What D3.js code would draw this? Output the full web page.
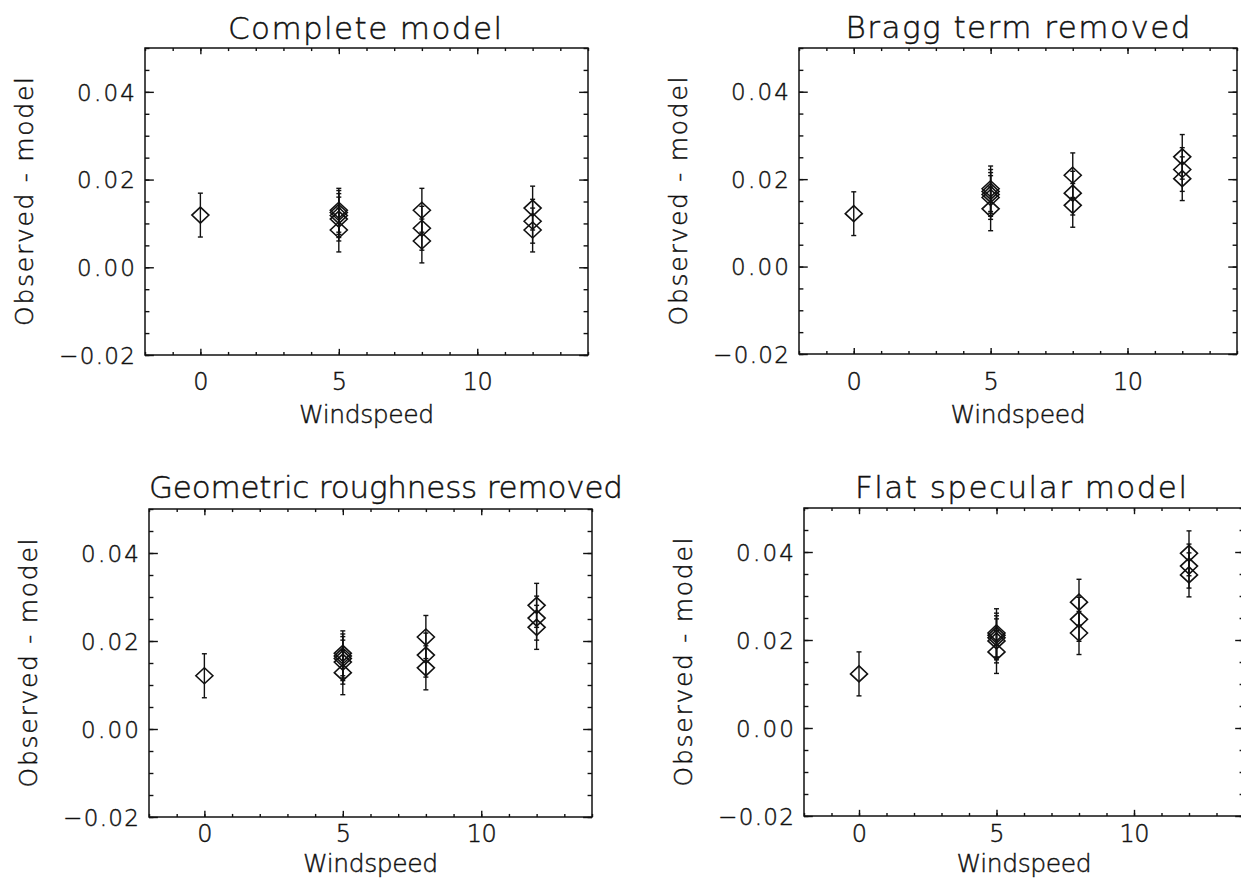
<!DOCTYPE html>
<html>
<head>
<meta charset="utf-8">
<script src="https://cdn.jsdelivr.net/npm/d3@7"></script>
<style>
  body { margin: 0; background: #fff; }
  svg text { font-family: "DejaVu Sans", sans-serif; font-weight: 200; fill: #111; stroke: #111; stroke-width: 0.45px; }
</style>
</head>
<body>
<script>
// data
var windspeed = [0, 5, 5, 5, 5, 5, 8, 8, 8, 12, 12, 12];

var completeModel    = [0.0119, 0.0130, 0.0125, 0.0118, 0.0110, 0.0085, 0.0130, 0.0089, 0.0060, 0.0135, 0.0105, 0.0085];
var braggRemoved     = [0.0121, 0.0178, 0.0172, 0.0165, 0.0158, 0.0132, 0.0209, 0.0168, 0.0140, 0.0251, 0.0222, 0.0201];
var roughnessRemoved = [0.0121, 0.0172, 0.0166, 0.0160, 0.0152, 0.0128, 0.0209, 0.0168, 0.0139, 0.0281, 0.0252, 0.0231];
var flatSpecular     = [0.0123, 0.0216, 0.0211, 0.0205, 0.0198, 0.0173, 0.0286, 0.0247, 0.0216, 0.0397, 0.0368, 0.0348];

var errComplete  = [0.005, 0.005, 0.005, 0.005, 0.005, 0.005, 0.005, 0.005, 0.005, 0.005, 0.005, 0.005];
var errBragg     = [0.005, 0.0052, 0.005, 0.005, 0.005, 0.005, 0.0051, 0.005, 0.005, 0.0051, 0.005, 0.005];
var errRoughness = [0.005, 0.0051, 0.005, 0.005, 0.005, 0.005, 0.0049, 0.005, 0.005, 0.005, 0.005, 0.005];
var errFlat      = [0.005, 0.0055, 0.005, 0.005, 0.005, 0.0049, 0.0052, 0.005, 0.0049, 0.0051, 0.005, 0.005];

var titles = ["Complete model", "Bragg term removed", "Geometric roughness removed", "Flat specular model"];
var xTicks = [0, 5, 10];
var yTicks = [-0.02, 0.00, 0.02, 0.04];
var xDomain = [-2, 14];
var yDomain = [-0.02, 0.05];

var w = 1241, h = 887;

// panel boxes (layout only)
var panels = [
  {values: completeModel,    errs: errComplete,  title: titles[0], left: 145, right: 588,  top: 48,  bottom: 355, titleX: 365,  titleY: 39,  titleW: 274, tickY: 390, labelY: 423},
  {values: braggRemoved,     errs: errBragg,     title: titles[1], left: 799, right: 1237, top: 48,  bottom: 354, titleX: 1018, titleY: 38,  titleW: 345, tickY: 390, labelY: 423},
  {values: roughnessRemoved, errs: errRoughness, title: titles[2], left: 149, right: 592,  top: 509, bottom: 817, titleX: 386,  titleY: 498, titleW: 474, tickY: 842, labelY: 872},
  {values: flatSpecular,     errs: errFlat,      title: titles[3], left: 804, right: 1244, top: 508, bottom: 816, titleX: 1021, titleY: 498, titleW: 332, tickY: 842, labelY: 872}
];

var svg = d3.select("body").append("svg")
  .attr("width", w)
  .attr("height", h);

var ink = "#111";

// rough Hershey-like label widths
function labelWidth(s) {
  return d3.sum(s.split(""), function(c) {
    if (c === ".") return 13;
    if (c === "\u2212") return 18;
    return 15;
  });
}

var diamond = {
  draw: function(ctx, size) {
    var hw = 8.5, hh = 8;
    ctx.moveTo(0, -hh);
    ctx.lineTo(hw, 0);
    ctx.lineTo(0, hh);
    ctx.lineTo(-hw, 0);
    ctx.closePath();
  }
};

function styleAxis(sel) {
  sel.select(".domain").remove();
  sel.selectAll(".tick line").attr("stroke", ink).attr("stroke-width", 1.4);
}

panels.forEach(function(p) {
  var x = d3.scaleLinear().domain(xDomain).range([p.left, p.right]);
  var y = d3.scaleLinear().domain(yDomain).range([p.bottom, p.top]);
  var g = svg.append("g");
  var xLen = 0.02 * (p.bottom - p.top);
  var yLen = 0.02 * (p.right - p.left);
  var xMinor = d3.range(-2, 15, 1);
  var yMinor = d3.range(-0.02, 0.0501, 0.005);

  // box
  g.append("rect")
    .attr("x", p.left).attr("y", p.top)
    .attr("width", p.right - p.left).attr("height", p.bottom - p.top)
    .attr("fill", "none").attr("stroke", ink).attr("stroke-width", 1.5);

  // minor ticks on all four sides
  g.append("g").attr("transform", "translate(0," + p.bottom + ")")
    .call(d3.axisBottom(x).tickValues(xMinor).tickSize(-xLen / 2).tickFormat("")).call(styleAxis);
  g.append("g").attr("transform", "translate(0," + p.top + ")")
    .call(d3.axisTop(x).tickValues(xMinor).tickSize(-xLen / 2).tickFormat("")).call(styleAxis);
  g.append("g").attr("transform", "translate(" + p.left + ",0)")
    .call(d3.axisLeft(y).tickValues(yMinor).tickSize(-yLen / 2).tickFormat("")).call(styleAxis);
  g.append("g").attr("transform", "translate(" + p.right + ",0)")
    .call(d3.axisRight(y).tickValues(yMinor).tickSize(-yLen / 2).tickFormat("")).call(styleAxis);

  // major ticks
  var xb = g.append("g").attr("transform", "translate(0," + p.bottom + ")")
    .call(d3.axisBottom(x).tickValues(xTicks).tickSize(-xLen).tickFormat(d3.format("d"))).call(styleAxis);
  xb.selectAll("text")
    .attr("dy", null)
    .attr("y", p.tickY - p.bottom)
    .attr("font-size", 24)
    .attr("fill", ink)
    .attr("textLength", function(d) { return labelWidth(String(d)); })
    .attr("lengthAdjust", "spacing");
  g.append("g").attr("transform", "translate(0," + p.top + ")")
    .call(d3.axisTop(x).tickValues(xTicks).tickSize(-xLen).tickFormat("")).call(styleAxis);

  var yl = g.append("g").attr("transform", "translate(" + p.left + ",0)")
    .call(d3.axisLeft(y).tickValues(yTicks).tickSize(-yLen).tickPadding(10).tickFormat(d3.format(".2f"))).call(styleAxis);
  yl.selectAll("text")
    .attr("x", -10)
    .attr("dy", "0.36em")
    .attr("font-size", 23)
    .attr("fill", ink)
    .attr("textLength", function() { return labelWidth(this.textContent); })
    .attr("lengthAdjust", "spacing");
  g.append("g").attr("transform", "translate(" + p.right + ",0)")
    .call(d3.axisRight(y).tickValues(yTicks).tickSize(-yLen).tickFormat("")).call(styleAxis);

  // title and axis labels
  g.append("text")
    .attr("x", p.titleX).attr("y", p.titleY)
    .attr("text-anchor", "middle")
    .attr("font-size", 31)
    .attr("textLength", p.titleW).attr("lengthAdjust", "spacing")
    .text(p.title);

  g.append("text")
    .attr("x", (p.left + p.right) / 2).attr("y", p.labelY)
    .attr("text-anchor", "middle")
    .attr("font-size", 25)
    .attr("textLength", 135).attr("lengthAdjust", "spacing")
    .text("Windspeed");

  g.append("text")
    .attr("transform", "translate(" + (p.left - 112) + "," + ((p.top + p.bottom) / 2) + ") rotate(-90)")
    .attr("text-anchor", "middle")
    .attr("font-size", 25)
    .attr("textLength", 249).attr("lengthAdjust", "spacing")
    .text("Observed - model");

  // error bars
  var pts = windspeed.map(function(ws, i) { return {x: ws, v: p.values[i], e: p.errs[i]}; });
  var eb = g.append("g").attr("stroke", ink).attr("stroke-width", 1.4);
  eb.selectAll("line.bar").data(pts).enter().append("line")
    .attr("x1", function(d) { return x(d.x); })
    .attr("x2", function(d) { return x(d.x); })
    .attr("y1", function(d) { return y(d.v - d.e); })
    .attr("y2", function(d) { return y(d.v + d.e); });
  eb.selectAll("line.capHi").data(pts).enter().append("line")
    .attr("x1", function(d) { return x(d.x) - 2.5; })
    .attr("x2", function(d) { return x(d.x) + 2.5; })
    .attr("y1", function(d) { return y(d.v + d.e); })
    .attr("y2", function(d) { return y(d.v + d.e); });
  eb.selectAll("line.capLo").data(pts).enter().append("line")
    .attr("x1", function(d) { return x(d.x) - 2.5; })
    .attr("x2", function(d) { return x(d.x) + 2.5; })
    .attr("y1", function(d) { return y(d.v - d.e); })
    .attr("y2", function(d) { return y(d.v - d.e); });

  // diamonds
  g.selectAll("path.pt").data(pts).enter().append("path")
    .attr("d", d3.symbol().type(diamond))
    .attr("transform", function(d) { return "translate(" + x(d.x) + "," + y(d.v) + ")"; })
    .attr("fill", "none")
    .attr("stroke", ink)
    .attr("stroke-width", 1.6);
});
</script>
</body>
</html>
